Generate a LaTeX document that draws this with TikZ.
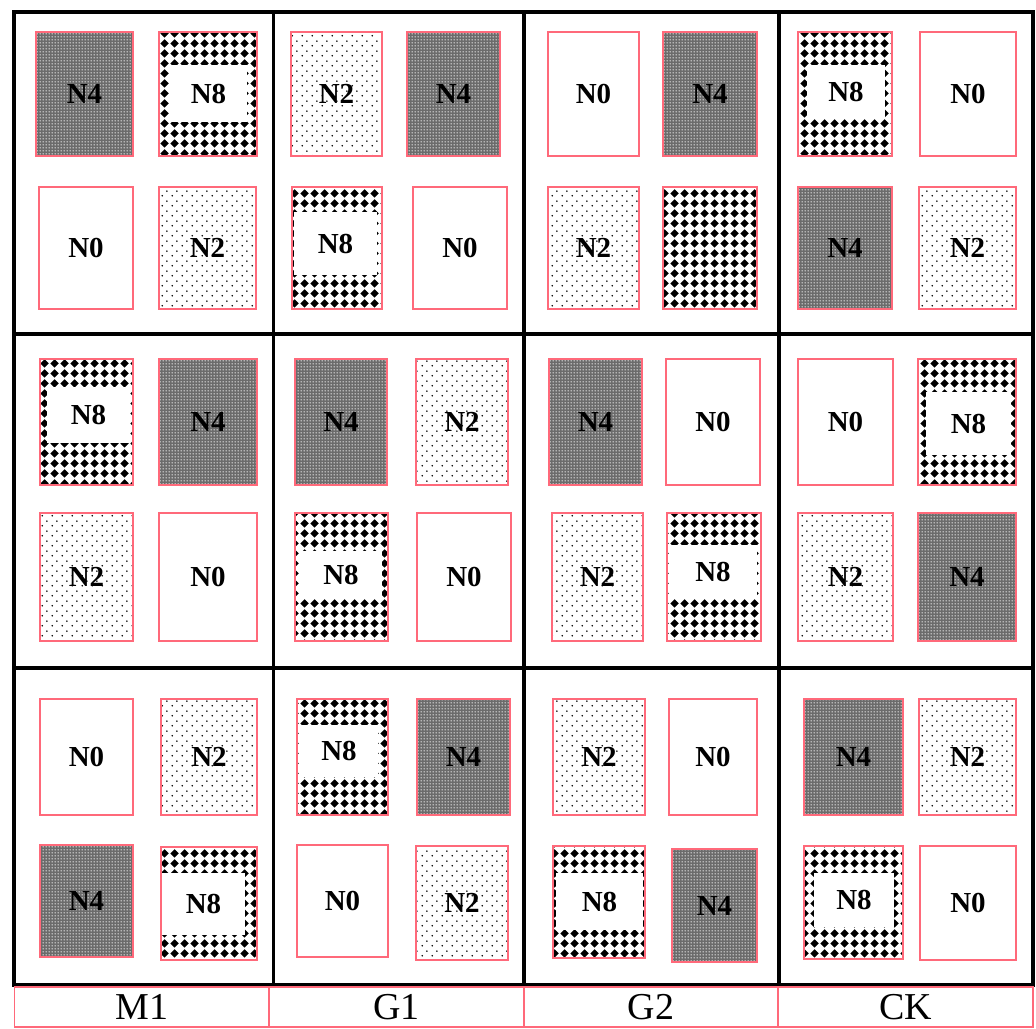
\documentclass[tikz,border=0pt]{standalone}
\usepackage{fontspec}
\setmainfont{Liberation Serif}
\usetikzlibrary{patterns.meta}
\definecolor{plotpink}{RGB}{255,105,122}

\tikzdeclarepattern{
  name=finespecks,
  type=uncolored,
  bottom left={(0pt,0pt)},
  top right={(3pt,3pt)},
  tile size={(3pt,3pt)},
  code={
    \fill (1.5pt,1.5pt) circle (0.9pt);
  }
}
\tikzdeclarepattern{
  name=sparsedots,
  type=uncolored,
  bottom left={(0pt,0pt)},
  top right={(10pt,10pt)},
  tile size={(10pt,10pt)},
  code={
    \fill (2.5pt,2.5pt) circle (0.95pt);
    \fill (7.5pt,7.5pt) circle (0.95pt);
  }
}
\tikzdeclarepattern{
  name=bigdiamonds,
  type=uncolored,
  bottom left={(0pt,0pt)},
  top right={(10pt,10pt)},
  tile size={(10pt,10pt)},
  code={
    \fill (5pt,0.4pt) -- (9.6pt,5pt) -- (5pt,9.6pt) -- (0.4pt,5pt) -- cycle;
  }
}

\tikzset{
  sz/.style 2 args={minimum width=#1pt, minimum height=#2pt},
  plot/.style={draw=plotpink, line width=2pt, inner sep=0pt,
               font=\fontsize{29}{30}\selectfont\bfseries},
  nzero/.style={plot, fill=white},
  ntwo/.style={plot, preaction={fill=white}, pattern=sparsedots, pattern color=black},
  nfour/.style={plot, preaction={fill=black!58}, pattern=finespecks, pattern color=white},
  neight/.style={plot, preaction={fill=white}, pattern=bigdiamonds, pattern color=black},
  hole/.style={fill=white, inner sep=0pt, font=\fontsize{29}{30}\selectfont\bfseries},
  block/.style={line width=3.5pt},
  treat/.style={draw=plotpink, line width=1.3pt, inner sep=0pt, minimum height=40pt,
                font=\fontsize{38}{40}\selectfont}
}

\begin{document}
\begin{tikzpicture}[x=1pt,y=-1pt]
\useasboundingbox (0,0) rectangle (1036,1028);
\fill[white] (0,0) rectangle (1036,1028);

\foreach \xa/\xb in {14/273.5,273.5/524,524/779,779/1033}
  \foreach \ya/\yb in {12/334,334/668,668/985}
    \draw[block] (\xa,\ya) rectangle (\xb,\yb);

% row 1
\node[nfour,  sz={97}{124}] (m1-1a) at (84.5,94)  {N4};
\node[neight, sz={98}{124}] (m1-1b) at (208,94)   {};
\node[hole,   sz={77}{57}]  (m1-1h) at (208.5,93.5) {N8};
\node[nzero,  sz={94}{122}] (m1-1c) at (86,248)   {N0};
\node[ntwo,   sz={97}{122}] (m1-1d) at (207.5,248) {N2};

\node[ntwo,   sz={91}{124}] (g1-1a) at (336.5,94) {N2};
\node[nfour,  sz={93}{124}] (g1-1b) at (453.5,94) {N4};
\node[neight, sz={90}{122}] (g1-1c) at (337,248)  {};
\node[hole,   sz={83}{63}]  (g1-1h) at (335.5,243.5) {N8};
\node[nzero,  sz={94}{122}] (g1-1d) at (460,248)  {N0};

\node[nzero,  sz={91}{124}] (g2-1a) at (593.5,94) {N0};
\node[nfour,  sz={94}{124}] (g2-1b) at (710,94)   {N4};
\node[ntwo,   sz={91}{122}] (g2-1c) at (593.5,248) {N2};
\node[neight, sz={94}{122}] (g2-1d) at (710,248)  {};

\node[neight, sz={94}{124}] (ck-1a) at (845,94)   {};
\node[hole,   sz={78}{53}]  (ck-1h) at (846,91.5) {N8};
\node[nzero,  sz={96}{124}] (ck-1b) at (968,94)   {N0};
\node[nfour,  sz={94}{122}] (ck-1c) at (845,248)  {N4};
\node[ntwo,   sz={97}{122}] (ck-1d) at (967.5,248) {N2};

% row 2
\node[neight, sz={93}{126}] (m1-2a) at (86.5,422) {};
\node[hole,   sz={83}{56}]  (m1-2h) at (88.5,415) {N8};
\node[nfour,  sz={98}{126}] (m1-2b) at (208,422)  {N4};
\node[ntwo,   sz={93}{128}] (m1-2c) at (86.5,577) {N2};
\node[nzero,  sz={98}{128}] (m1-2d) at (208,577)  {N0};

\node[nfour,  sz={92}{126}] (g1-2a) at (341,422)  {N4};
\node[ntwo,   sz={92}{126}] (g1-2b) at (462,422)  {N2};
\node[neight, sz={93}{128}] (g1-2c) at (341.5,577) {};
\node[hole,   sz={82}{48}]  (g1-2h) at (341,575)  {N8};
\node[nzero,  sz={94}{128}] (g1-2d) at (464,577)  {N0};

\node[nfour,  sz={93}{126}] (g2-2a) at (595.5,422) {N4};
\node[nzero,  sz={94}{126}] (g2-2b) at (713,422)  {N0};
\node[ntwo,   sz={91}{128}] (g2-2c) at (597.5,577) {N2};
\node[neight, sz={94}{128}] (g2-2d) at (714,577)  {};
\node[hole,   sz={88}{54}]  (g2-2h) at (713,572)  {N8};

\node[nzero,  sz={95}{126}] (ck-2a) at (845.5,422) {N0};
\node[neight, sz={98}{126}] (ck-2b) at (967,422)  {};
\node[hole,   sz={85}{63}]  (ck-2h) at (968.5,423.5) {N8};
\node[ntwo,   sz={95}{128}] (ck-2c) at (845.5,577) {N2};
\node[nfour,  sz={98}{128}] (ck-2d) at (967,577)  {N4};

% row 3
\node[nzero,  sz={93}{116}] (m1-3a) at (86.5,757) {N0};
\node[ntwo,   sz={96}{116}] (m1-3b) at (209,757)  {N2};
\node[nfour,  sz={93}{112}] (m1-3c) at (86.5,901) {N4};
\node[neight, sz={96}{113}] (m1-3d) at (209,903.5) {};
\node[hole,   sz={83}{62}]  (m1-3h) at (203.5,904) {N8};

\node[neight, sz={91}{116}] (g1-3a) at (342.5,757) {};
\node[hole,   sz={78}{52}]  (g1-3h) at (339,751)  {N8};
\node[nfour,  sz={93}{116}] (g1-3b) at (463.5,757) {N4};
\node[nzero,  sz={91}{112}] (g1-3c) at (342.5,901) {N0};
\node[ntwo,   sz={92}{114}] (g1-3d) at (462,903)  {N2};

\node[ntwo,   sz={92}{116}] (g2-3a) at (599,757)  {N2};
\node[nzero,  sz={88}{116}] (g2-3b) at (713,757)  {N0};
\node[neight, sz={92}{112}] (g2-3c) at (599,902)  {};
\node[hole,   sz={87}{57}]  (g2-3h) at (599.5,901.5) {N8};
\node[nfour,  sz={85}{113}] (g2-3d) at (714.5,905.5) {N4};

\node[nfour,  sz={99}{116}] (ck-3a) at (853.5,757) {N4};
\node[ntwo,   sz={97}{116}] (ck-3b) at (967.5,757) {N2};
\node[neight, sz={99}{113}] (ck-3c) at (853.5,902.5) {};
\node[hole,   sz={80}{54}]  (ck-3h) at (854,900)  {N8};
\node[nzero,  sz={96}{114}] (ck-3d) at (968,903)  {N0};

% treatments
\node[treat, minimum width=254.5pt] (lm1) at (141.75,1007) {M1};
\node[treat, minimum width=255pt]   (lg1) at (396.5,1007)  {G1};
\node[treat, minimum width=254pt]   (lg2) at (651,1007)    {G2};
\node[treat, minimum width=255pt]   (lck) at (905.5,1007)  {CK};
\end{tikzpicture}
\end{document}
